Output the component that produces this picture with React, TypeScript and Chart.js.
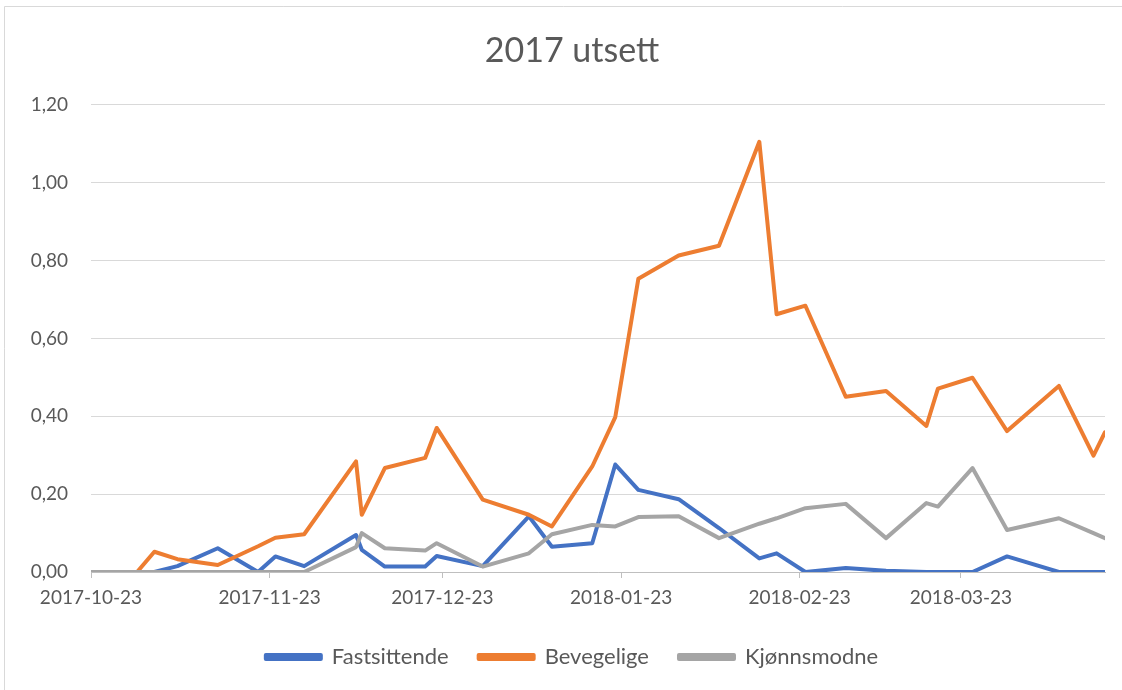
import React, { useEffect, useRef } from "react";
import { Chart, registerables } from "chart.js";

Chart.register(...registerables);

const titleText = "2017 utsett";

const dates = [
  "2017-10-23", "2017-10-31", "2017-11-03", "2017-11-07", "2017-11-14", "2017-11-21",
  "2017-11-24", "2017-11-29", "2017-12-08", "2017-12-09", "2017-12-13", "2017-12-20",
  "2017-12-22", "2017-12-30", "2018-01-07", "2018-01-11", "2018-01-18", "2018-01-22",
  "2018-01-26", "2018-02-02", "2018-02-09", "2018-02-16", "2018-02-19", "2018-02-24",
  "2018-03-03", "2018-03-10", "2018-03-17", "2018-03-19", "2018-03-25", "2018-03-31",
  "2018-04-09", "2018-04-15", "2018-04-17",
];

const fastsittende = [
  0, 0, 0, 0.015, 0.061, 0, 0.04, 0.015, 0.095, 0.057, 0.014, 0.014, 0.041, 0.015,
  0.143, 0.065, 0.074, 0.276, 0.211, 0.187, 0.113, 0.035, 0.048, 0, 0.01, 0.003, 0, 0,
  0, 0.04, 0, 0, 0,
];

const bevegelige = [
  0, 0, 0.052, 0.033, 0.018, 0.066, 0.088, 0.097, 0.284, 0.147, 0.267, 0.293, 0.37,
  0.186, 0.147, 0.117, 0.271, 0.398, 0.753, 0.813, 0.838, 1.105, 0.662, 0.684, 0.45,
  0.465, 0.375, 0.471, 0.499, 0.362, 0.478, 0.299, 0.359,
];

const kjonnsmodne = [
  0, 0, 0, 0, 0, 0, 0, 0, 0.064, 0.1, 0.061, 0.055, 0.074, 0.014, 0.048, 0.097, 0.121,
  0.117, 0.141, 0.143, 0.087, 0.124, 0.138, 0.164, 0.175, 0.087, 0.177, 0.168, 0.267,
  0.108, 0.138, 0.1, 0.087,
];

const tickLabels = ["2017-10-23", "2017-11-23", "2017-12-23", "2018-01-23", "2018-02-23", "2018-03-23"];

const seriesNames = ["Fastsittende", "Bevegelige", "Kjønnsmodne"];
const seriesColors = ["#4472C4", "#ED7D31", "#A5A5A5"];

const baseMs = Date.parse(dates[0]);
const dayOf = (d: string) => Math.round((Date.parse(d) - baseMs) / 86400000);
const dayValues = dates.map(dayOf);
const tickDays = tickLabels.map(dayOf);

const FONT = "Lato, 'Open Sans', sans-serif";
const TEXT = "#595959";

const frame = {
  id: "frame",
  beforeDraw(chart: any) {
    const ctx = chart.ctx;
    ctx.save();
    ctx.fillStyle = "#ffffff";
    ctx.fillRect(0, 0, chart.width, chart.height);
    ctx.strokeStyle = "#d9d9d9";
    ctx.lineWidth = 1;
    ctx.beginPath();
    ctx.moveTo(4.5, chart.height);
    ctx.lineTo(4.5, 6.5);
    ctx.lineTo(chart.width, 6.5);
    ctx.stroke();
    ctx.restore();
  },
};

export default function App() {
  const ref = useRef<HTMLCanvasElement | null>(null);

  useEffect(() => {
    if (!ref.current) return;
    const series = [fastsittende, bevegelige, kjonnsmodne];
    const chart = new Chart(ref.current, {
      type: "line",
      data: {
        datasets: series.map((vals, i) => ({
          label: seriesNames[i],
          data: vals.map((v, j) => ({ x: dayValues[j], y: v })),
          borderColor: seriesColors[i],
          backgroundColor: seriesColors[i],
          borderWidth: 4,
          pointRadius: 0,
          tension: 0,
          borderJoinStyle: "round",
          borderCapStyle: "round",
          order: 2 - i,
          yAxisID: "y",
        })),
      },
      options: {
        animation: false,
        responsive: true,
        maintainAspectRatio: false,
        layout: { padding: { left: 26, right: 4, top: 0, bottom: 12 } },
        plugins: {
          title: {
            display: true,
            text: titleText,
            color: TEXT,
            font: { family: FONT, size: 34, weight: "normal" },
            padding: { top: 31, bottom: 33 },
          },
          legend: {
            display: true,
            position: "bottom",
            labels: {
              color: TEXT,
              font: { family: FONT, size: 22 },
              boxWidth: 55,
              boxHeight: 4,
              padding: 30,
              sort: (a: any, b: any) => a.datasetIndex - b.datasetIndex,
            },
          },
          tooltip: { enabled: false },
        },
        scales: {
          x: {
            type: "linear",
            min: 0,
            max: dayValues[dayValues.length - 1],
            grid: {
              drawOnChartArea: false,
              drawTicks: true,
              tickLength: 6,
              color: "#bfbfbf",
            },
            border: { display: true, color: "#bfbfbf", width: 1 },
            afterBuildTicks: (scale: any) => {
              scale.ticks = tickDays.map((v) => ({ value: v }));
            },
            afterFit: (scale: any) => {
              scale.height = 44;
            },
            ticks: {
              autoSkip: false,
              maxRotation: 0,
              color: TEXT,
              font: { family: FONT, size: 19 },
              padding: 8,
              callback: (v: any) => {
                const idx = tickDays.indexOf(Number(v));
                return idx >= 0 ? tickLabels[idx] : "";
              },
            },
          },
          y: {
            position: "left",
            min: 0,
            max: 1.2,
            grid: { color: "#d9d9d9", drawTicks: false, lineWidth: 1 },
            border: { display: false },
            afterFit: (scale: any) => {
              scale.width = 65;
            },
            ticks: {
              stepSize: 0.2,
              color: TEXT,
              font: { family: FONT, size: 19 },
              padding: 23,
              callback: (v: any) => Number(v).toFixed(2).replace(".", ","),
            },
          },
          yRight: {
            position: "right",
            display: true,
            grid: { display: false, drawTicks: false },
            border: { display: false },
            ticks: { display: false },
            afterFit: (scale: any) => {
              scale.width = 13;
            },
          },
        },
      },
      plugins: [frame],
    } as any);
    return () => chart.destroy();
  }, []);

  return (
    <div style={{ position: "fixed", left: 0, top: 0, width: 1122, height: 690, background: "#fff" }}>
      <canvas ref={ref} />
    </div>
  );
}
